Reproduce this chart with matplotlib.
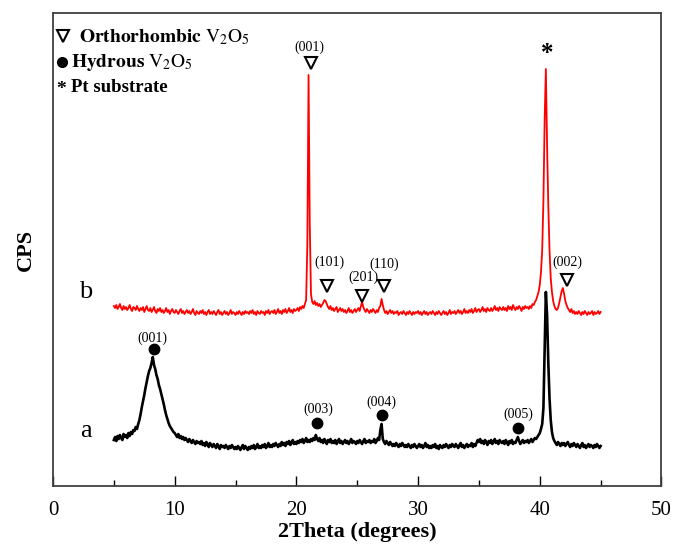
import numpy as np
import matplotlib
matplotlib.use("Agg")
import matplotlib.pyplot as plt

plt.rcParams['font.family'] = ['Liberation Serif', 'DejaVu Serif']
plt.rcParams['mathtext.fontset'] = 'stix'

# 2theta scan, 5 to 45 degrees in 0.1 steps
two_theta = np.linspace(5, 45, 401)

# pattern b: orthorhombic V2O5 (arbitrary CPS units)
cps_b = [
    184, 182, 185, 181, 183, 186, 182, 180, 184, 181,
    183, 180, 182, 185, 181, 179, 183, 182, 180, 184,
    181, 179, 182, 180, 183, 178, 181, 184, 180, 179,
    182, 178, 180, 183, 179, 177, 181, 179, 182, 178,
    180, 177, 179, 182, 178, 180, 176, 179, 181, 178,
    177, 180, 178, 176, 179, 181, 177, 179, 176, 178,
    180, 177, 179, 176, 178, 181, 177, 175, 179, 177,
    176, 179, 177, 180, 176, 178, 175, 178, 180, 176,
    178, 176, 179, 177, 175, 178, 180, 176, 178, 175,
    177, 179, 176, 178, 175, 177, 180, 176, 178, 177,
    175, 178, 176, 179, 177, 175, 178, 176, 179, 177,
    178, 176, 179, 177, 180, 176, 178, 175, 179, 177,
    176, 179, 177, 178, 175, 179, 177, 180, 176, 178,
    179, 177, 180, 176, 178, 181, 177, 179, 176, 180,
    178, 181, 177, 179, 182, 178, 180, 177, 181, 179,
    180, 182, 179, 183, 181, 184, 182, 186, 190, 245,
    415, 265, 196, 188, 186, 189, 185, 187, 184, 186,
    183, 185, 187, 190, 189, 186, 183, 181, 184, 180,
    182, 179, 181, 183, 178, 180, 182, 179, 181, 178,
    180, 177, 179, 182, 178, 180, 177, 179, 181, 178,
    180, 182, 179, 184, 188, 183, 180, 178, 181, 179,
    177, 180, 178, 181, 179, 177, 180, 178, 182, 184,
    191, 185, 180, 177, 179, 176, 178, 180, 177, 179,
    176, 178, 177, 179, 175, 177, 178, 176, 179, 177,
    175, 178, 176, 179, 177, 175, 178, 176, 178, 177,
    179, 176, 178, 175, 177, 179, 176, 178, 175, 177,
    178, 176, 179, 177, 175, 178, 176, 179, 177, 175,
    177, 179, 176, 178, 175, 177, 180, 176, 178, 177,
    179, 176, 178, 180, 177, 179, 176, 178, 181, 177,
    179, 177, 180, 178, 181, 177, 179, 182, 178, 180,
    181, 178, 180, 183, 179, 181, 178, 182, 180, 179,
    182, 179, 181, 184, 180, 182, 179, 183, 181, 180,
    183, 180, 182, 179, 184, 181, 183, 180, 185, 182,
    180, 183, 181, 184, 182, 179, 183, 181, 184, 182,
    183, 181, 184, 182, 186, 185, 188, 190, 194, 198,
    205, 218, 240, 290, 370, 421, 345, 285, 240, 212,
    198, 189, 184, 181, 180, 182, 187, 193, 199, 202,
    196, 189, 185, 182, 180, 178, 181, 177, 179, 176,
    178, 176, 179, 177, 175, 178, 176, 179, 177, 175,
    178, 176, 177, 179, 175, 178, 176, 177, 179, 176,
    178,
]

# pattern a: hydrous V2O5
cps_a = [
    50, 53, 49, 54, 51, 55, 52, 50, 56, 53,
    55, 52, 57, 54, 58, 56, 60, 59, 63, 61,
    66, 70, 76, 83, 89, 95, 102, 108, 114, 119,
    122, 127, 133, 125, 121, 115, 111, 105, 101, 96,
    91, 86, 80, 75, 71, 67, 64, 62, 60, 58,
    57, 55, 53, 56, 52, 54, 51, 53, 50, 52,
    50, 48, 51, 49, 47, 50, 48, 46, 49, 47,
    48, 46, 49, 45, 47, 44, 48, 46, 43, 47,
    45, 43, 46, 44, 42, 46, 44, 41, 45, 43,
    44, 42, 45, 43, 41, 44, 42, 45, 43, 41,
    43, 41, 44, 42, 40, 43, 45, 41, 44, 42,
    40, 43, 41, 44, 42, 45, 41, 43, 46, 42,
    44, 42, 45, 43, 46, 42, 44, 47, 43, 45,
    43, 46, 44, 47, 45, 43, 46, 44, 48, 45,
    47, 44, 48, 46, 49, 45, 47, 50, 46, 48,
    46, 49, 47, 50, 48, 51, 47, 49, 52, 48,
    50, 48, 51, 49, 52, 50, 55, 51, 49, 52,
    48, 50, 47, 51, 49, 46, 50, 48, 51, 47,
    49, 47, 50, 46, 48, 51, 47, 49, 46, 48,
    50, 47, 49, 46, 48, 51, 47, 49, 48, 46,
    49, 47, 50, 48, 46, 49, 51, 47, 49, 48,
    50, 47, 49, 48, 51, 47, 49, 52, 50, 60,
    66, 51, 48, 46, 49, 47, 45, 48, 46, 44,
    46, 44, 47, 45, 43, 46, 44, 47, 45, 43,
    45, 43, 46, 44, 42, 45, 43, 46, 44, 42,
    44, 46, 43, 45, 42, 44, 47, 43, 45, 42,
    44, 42, 45, 43, 46, 42, 44, 41, 45, 43,
    42, 45, 43, 46, 44, 42, 45, 43, 46, 44,
    43, 46, 44, 42, 45, 47, 43, 45, 42, 44,
    46, 43, 45, 44, 47, 43, 46, 44, 47, 50,
    48, 51, 47, 49, 46, 50, 48, 45, 49, 47,
    50, 46, 48, 51, 47, 49, 46, 50, 48, 47,
    49, 46, 50, 48, 45, 49, 47, 50, 46, 48,
    47, 50, 53, 49, 46, 48, 50, 47, 49, 48,
    50, 47, 49, 51, 48, 50, 52, 51, 53, 55,
    57, 61, 66, 82, 140, 198, 175, 128, 92, 70,
    58, 52, 49, 47, 45, 48, 46, 44, 47, 45,
    47, 44, 46, 48, 45, 43, 46, 44, 47, 45,
    43, 46, 44, 42, 45, 47, 43, 45, 42, 44,
    46, 43, 45, 44, 42, 45, 43, 46, 44, 42,
    44,
]

# peak labels: (hkl, label x, label y, marker x, marker y)
peaks_b = [
    ('(001)', 21.1, 443, 21.2, 427),
    ('(101)', 22.7, 228, 22.5, 204),
    ('(201)', 25.5, 213, 25.4, 194),
    ('(110)', 27.2, 226, 27.2, 204),
    ('(002)', 42.3, 228, 42.2, 210),
]
peaks_a = [
    ('(001)', 8.2, 152, 8.3, 141),
    ('(003)', 21.8, 81, 21.7, 67),
    ('(004)', 27.0, 88, 27.0, 75),
    ('(005)', 38.2, 76, 38.2, 62),
]
pt_peak = (40.6, 437)

fig = plt.figure(figsize=(6.76, 5.44), dpi=100)
ax = fig.add_axes([0.0784, 0.1066, 0.9001, 0.8695])

ax.plot(two_theta, cps_b, color='#ff0000', lw=1.3)
ax.plot(two_theta, cps_a, color='black', lw=1.9)

for lab, lx, ly, mx, my in peaks_b:
    ax.text(lx, ly, lab, fontsize=10, ha='center', va='center')
    ax.plot(mx, my, marker='v', ms=9, mfc='white', mec='black', mew=1.5)
for lab, lx, ly, mx, my in peaks_a:
    ax.text(lx, ly, lab, fontsize=10, ha='center', va='center')
    ax.plot(mx, my, marker='o', ms=7.5, color='black')
ax.text(pt_peak[0], pt_peak[1], '*', fontsize=18, fontweight='bold', ha='center', va='center')

ax.text(2.7, 198, 'b', fontsize=19, ha='center', va='center')
ax.text(2.7, 59, 'a', fontsize=19, ha='center', va='center')

# key in the top left corner
ax.plot(0.017, 0.951, marker='v', ms=9, mfc='white', mec='black', mew=1.5, transform=ax.transAxes)
ax.text(0.043, 0.949, r'$\mathbf{Orthorhombic}\ \mathrm{V_2O_5}$', fontsize=14,
        va='center', transform=ax.transAxes)
ax.plot(0.015, 0.897, marker='o', ms=7, color='black', transform=ax.transAxes)
ax.text(0.030, 0.895, r'$\mathbf{Hydrous}\ \mathrm{V_2O_5}$', fontsize=14,
        va='center', transform=ax.transAxes)
ax.text(0.014, 0.838, '*', fontsize=14, fontweight='bold', ha='center', va='center',
        transform=ax.transAxes)
ax.text(0.029, 0.842, 'Pt substrate', fontsize=13.5, fontweight='bold',
        va='center', transform=ax.transAxes)

ax.set_xlim(0, 50)
ax.set_ylim(4, 477)
ax.set_xticks([0, 10, 20, 30, 40, 50])
ax.set_xticks([5, 15, 25, 35, 45], minor=True)
ax.set_yticks([])
ax.tick_params(axis='x', which='major', direction='in', length=7, width=1, labelsize=15, pad=11)
ax.tick_params(axis='x', which='minor', direction='in', length=4, width=1)
for sp in ax.spines.values():
    sp.set_color('#404040')
    sp.set_linewidth(1.3)

ax.set_xlabel('2Theta (degrees)', fontsize=16, fontweight='bold', labelpad=1)
ax.set_ylabel('CPS', fontsize=16, fontweight='bold', labelpad=12)

fig.savefig('out.png', dpi=100)
